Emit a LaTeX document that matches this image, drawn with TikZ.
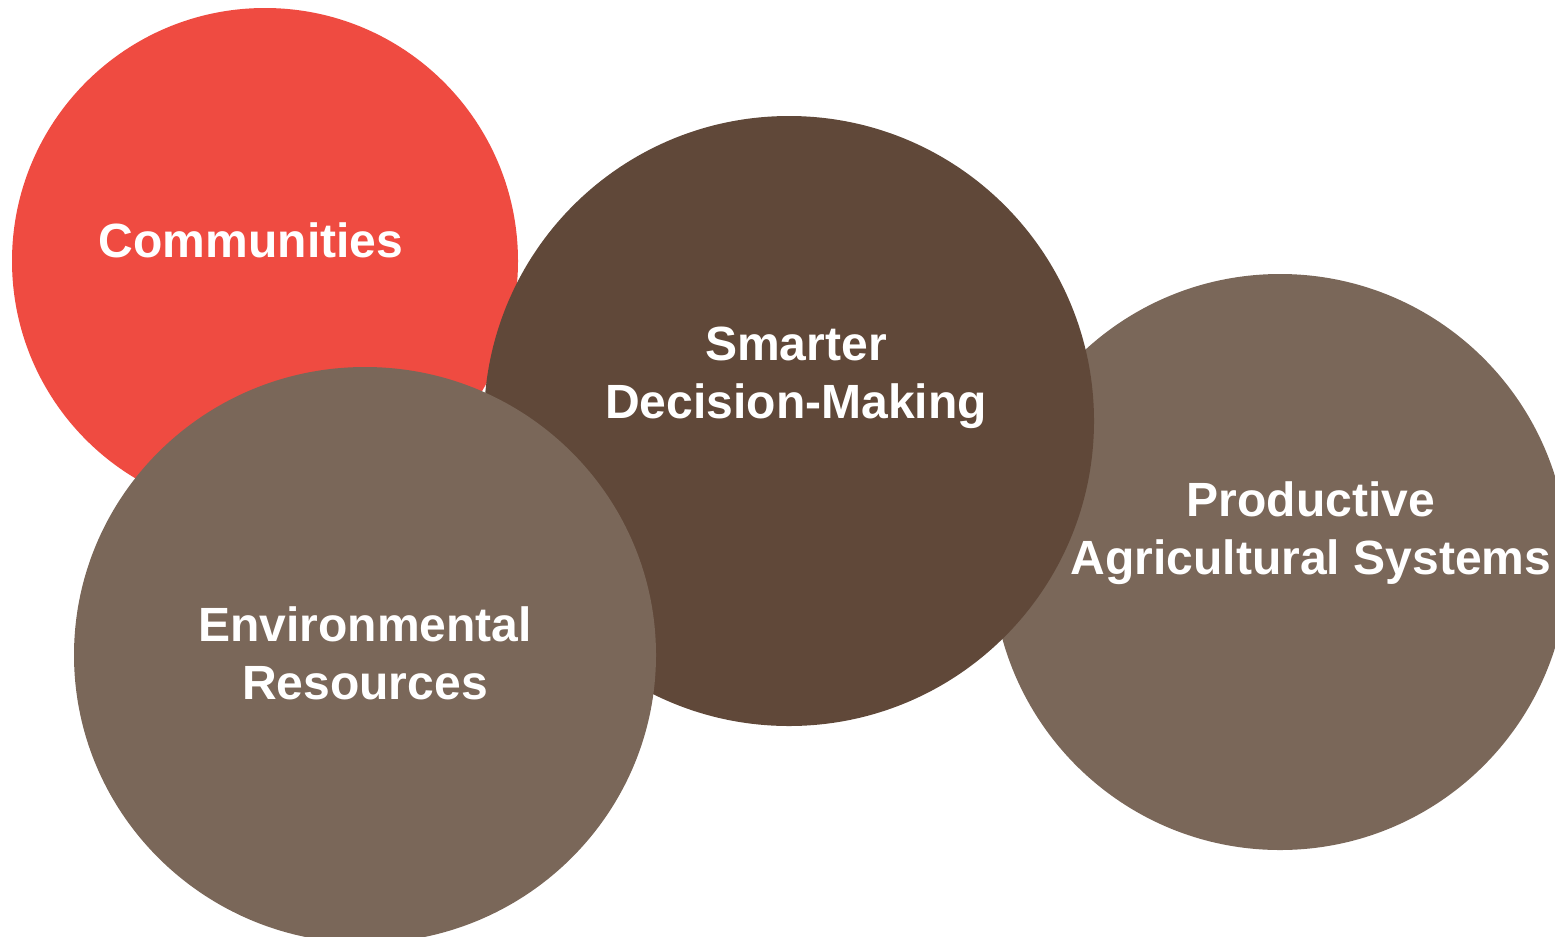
\documentclass[tikz,border=0pt]{standalone}
\usepackage{fontspec}
\setmainfont{Liberation Sans}
\definecolor{commred}{HTML}{EF4B41}
\definecolor{darkbrown}{HTML}{604839}
\definecolor{lightbrown}{HTML}{7A6759}
\tikzset{
  label text/.style={text=white, font=\bfseries\fontsize{13.66pt}{16.5pt}\selectfont, align=center, inner sep=0pt}
}

\begin{document}
\begin{tikzpicture}[x=0.01cm, y=-0.01cm]
\useasboundingbox (0,0) rectangle (1555,936);
\clip (0,0) rectangle (1555,936);
% circles, back to front
\fill[commred] (265,261) circle (253);
\fill[lightbrown] (1280,562) circle (288);
\fill[darkbrown] (789,421) circle (305);
\fill[lightbrown] (365,655) ellipse (291 and 288);
% labels on top
\node[label text] (communities) at (251,240) {Communities};
\node[label text] (smarter) at (796,378) {Smarter\\Decision-Making};
\node[label text] (productive) at (1311,533) {Productive\\Agricultural Systems};
\node[label text] (environment) at (365,653) {Environmental\\Resources};
\end{tikzpicture}
\end{document}
